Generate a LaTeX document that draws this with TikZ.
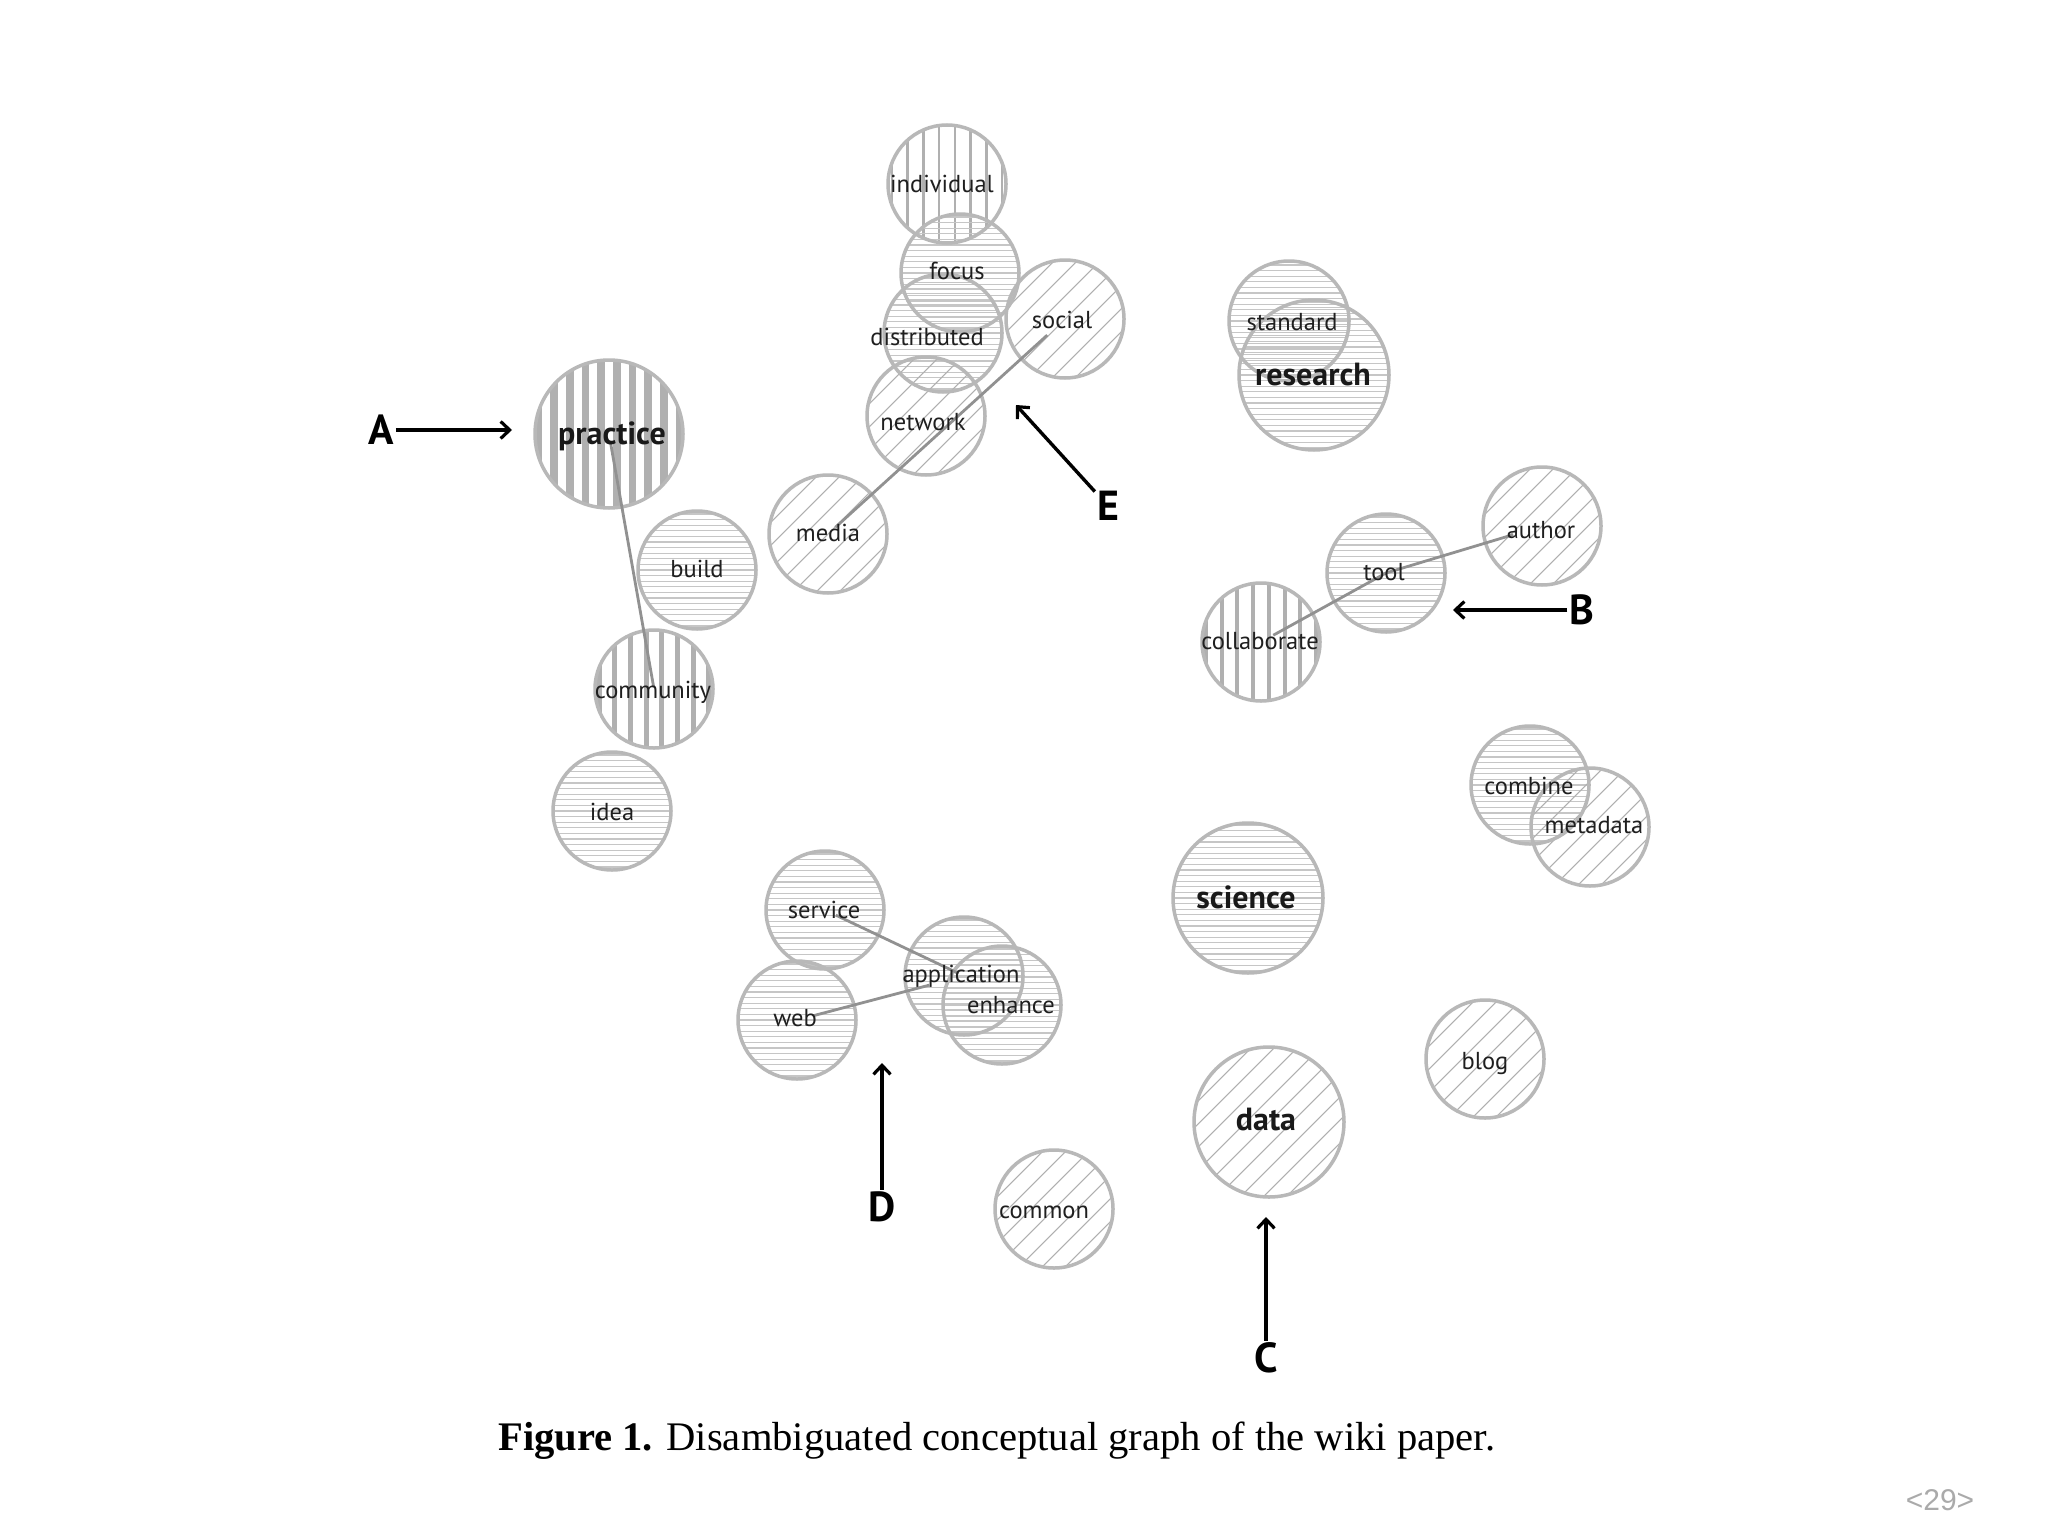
\documentclass[tikz,border=0pt]{standalone}
\usepackage{fontspec}
\setmainfont{Liberation Serif}
\newfontfamily\lblfont{PT Sans}
\newfontfamily\pagefont{Liberation Sans}
\usetikzlibrary{arrows.meta,calc,backgrounds}

\definecolor{ringc}{RGB}{184,184,184}
\definecolor{hatchc}{RGB}{198,198,198}
\definecolor{stripec}{RGB}{176,176,176}
\definecolor{diagc}{RGB}{175,175,175}
\definecolor{edgec}{RGB}{145,145,145}
\definecolor{pagec}{RGB}{170,170,170}

\tikzset{
  concept/.style={circle, draw=ringc, line width=3.5pt, minimum size=#1, inner sep=0pt},
  lbl/.style={font=\lblfont\fontsize{24.5}{27}\selectfont, text=black!88, inner sep=0pt, anchor=mid, yshift=-6pt},
  biglbl/.style={font=\lblfont\bfseries\fontsize{32}{34}\selectfont, text=black!90, inner sep=0pt, anchor=mid, yshift=-8pt},
  link/.style={draw=edgec, line width=2.8pt},
  pointer/.style={-{Straight Barb[length=9pt,width=17pt,line width=3.2pt]}, line width=3.4pt, black},
  letter/.style={font=\lblfont\bfseries\fontsize{42}{44}\selectfont, inner sep=2pt},
  hline/.style={draw=hatchc, line width=1.1pt},
  vline/.style={draw=stripec},
  dline/.style={draw=diagc, line width=1.05pt},
}

% horizontal hatching: node name, radius
\newcommand\hatchH[2]{%
  \begin{scope}
    \clip (#1.center) circle (#2pt);
    \foreach \k in {-14,...,14}
      \draw[hline] ($(#1.center)+(-#2,\k*5.6)$) -- ++(2*#2,0);
  \end{scope}}
% vertical stripes: node name, radius, stripe width
\newcommand\hatchV[3]{%
  \begin{scope}
    \clip (#1.center) circle (#2pt);
    \foreach \k in {-6,...,5}
      \draw[vline, line width=#3pt] ($(#1.center)+(\k*15.7+7.85,-#2)$) -- ++(0,2*#2);
  \end{scope}}
% diagonal hatching: node name, radius
\newcommand\hatchD[2]{%
  \begin{scope}
    \clip (#1.center) circle (#2pt);
    \foreach \k in {-7,...,7}
      \draw[dline] ($(#1.center)+(\k*23-#2,#2)$) -- ++(2*#2,-2*#2);
  \end{scope}}

\begin{document}
\begin{tikzpicture}[x=1pt,y=-1pt]
\useasboundingbox (0,0) rectangle (2048,1536);

% ---- concept circles
\node[concept=118pt] (individual) at (947,184) {};
\node[concept=118pt] (focus) at (960,273) {};
\node[concept=118pt] (distributed) at (943,333) {};
\node[concept=118pt] (social) at (1065,319) {};
\node[concept=118pt] (network) at (926,416) {};
\node[concept=118pt] (media) at (828,534) {};
\node[concept=148pt] (practice) at (609,434) {};
\node[concept=118pt] (build) at (697,570) {};
\node[concept=118pt] (community) at (654,689) {};
\node[concept=118pt] (idea) at (612,811) {};
\node[concept=120pt] (standard) at (1289,321) {};
\node[concept=150pt] (research) at (1314,375) {};
\node[concept=118pt] (author) at (1542,526) {};
\node[concept=118pt] (tool) at (1386,573) {};
\node[concept=118pt] (collaborate) at (1261,642) {};
\node[concept=118pt] (combine) at (1530,785) {};
\node[concept=118pt] (metadata) at (1590,827) {};
\node[concept=150pt] (science) at (1248,898) {};
\node[concept=118pt] (blog) at (1485,1059) {};
\node[concept=150pt] (data) at (1269,1122) {};
\node[concept=118pt] (service) at (825,910) {};
\node[concept=118pt] (web) at (797,1020) {};
\node[concept=118pt] (application) at (964,976) {};
\node[concept=118pt] (enhance) at (1002,1005) {};
\node[concept=118pt] (common) at (1054,1209) {};

% ---- page background and hatching behind the rings
\begin{scope}[on background layer]
  \fill[white] (0,0) rectangle (2048,1536);
  \hatchV{individual}{59}{2.6}
  \hatchV{practice}{74}{7.6}
  \hatchV{community}{59}{5}
  \hatchV{collaborate}{59}{4}
  \hatchH{focus}{59}
  \hatchH{distributed}{59}
  \hatchH{build}{59}
  \hatchH{idea}{59}
  \hatchH{standard}{60}
  \hatchH{research}{75}
  \hatchH{tool}{59}
  \hatchH{combine}{59}
  \hatchH{science}{75}
  \hatchH{service}{59}
  \hatchH{web}{59}
  \hatchH{application}{59}
  \hatchH{enhance}{59}
  \hatchD{social}{59}
  \hatchD{network}{59}
  \hatchD{media}{59}
  \hatchD{author}{59}
  \hatchD{metadata}{59}
  \hatchD{blog}{59}
  \hatchD{data}{75}
  \hatchD{common}{59}
\end{scope}

% ---- connectors
\draw[link, shorten <=8pt, shorten >=2pt] (practice.center) -- (community.center);
\draw[link, shorten <=10pt, shorten >=24pt] (media.center) -- (social.center);
\draw[link, shorten <=14pt] (collaborate.center) -- (tool.center);
\draw[link, shorten >=30pt] (tool.center) -- (author.center);
\draw[link, shorten <=12pt, shorten >=6pt] (service.center) -- (application.center);
\draw[link, shorten <=18pt, shorten >=36pt] (web.center) -- (application.center);

% ---- labels
\node[lbl] (individual-t) at (942,184) {individual};
\node[lbl] (focus-t) at (957,271) {focus};
\node[lbl] (distributed-t) at (927,337) {distributed};
\node[lbl] (social-t) at (1062,320) {social};
\node[lbl] (network-t) at (923,422) {network};
\node[lbl] (media-t) at (828,533) {media};
\node[biglbl] (practice-t) at (612,434) {practice};
\node[lbl] (build-t) at (697,569) {build};
\node[lbl] (community-t) at (653,690) {community};
\node[lbl] (idea-t) at (612,812) {idea};
\node[lbl] (standard-t) at (1292,322) {standard};
\node[biglbl] (research-t) at (1313,375) {research};
\node[lbl] (author-t) at (1541,530) {author};
\node[lbl] (tool-t) at (1384,572) {tool};
\node[lbl] (collaborate-t) at (1260,641) {collaborate};
\node[lbl] (combine-t) at (1529,786) {combine};
\node[lbl] (metadata-t) at (1594,825) {metadata};
\node[biglbl] (science-t) at (1246,898) {science};
\node[lbl] (blog-t) at (1485,1061) {blog};
\node[biglbl] (data-t) at (1266,1120) {data};
\node[lbl] (service-t) at (824,910) {service};
\node[lbl] (web-t) at (795,1018) {web};
\node[lbl] (application-t) at (961,974) {application};
\node[lbl] (enhance-t) at (1011,1005) {enhance};
\node[lbl] (common-t) at (1044,1210) {common};

% ---- pointer letters and arrows
\node[letter] (A) at (381,430) {A};
\coordinate (Aend) at (512,430);
\draw[pointer] (A) -- (Aend);

\node[letter] (B) at (1582,610) {B};
\coordinate (Bend) at (1453,610);
\draw[pointer] (B) -- (Bend);

\node[letter] (C) at (1266,1358) {C};
\coordinate (Cend) at (1266,1217);
\draw[pointer] (C) -- (Cend);

\node[letter] (D) at (882,1207) {D};
\coordinate (Dend) at (882,1063);
\draw[pointer] (D) -- (Dend);

\node[letter] (E) at (1108,506) {E};
\coordinate (Eend) at (1016,405);
\draw[pointer] (E) -- (Eend);

% ---- caption and page number
\node[anchor=west, inner sep=0pt, font=\fontsize{40.6}{43}\selectfont] (caption) at (498,1441)
  {\textbf{Figure 1.} Disambiguated conceptual graph of the wiki paper.};
\node[inner sep=0pt, text=pagec, font=\pagefont\fontsize{30}{32}\selectfont] (pagenum) at (1940,1500) {<29>};
\end{tikzpicture}
\end{document}
